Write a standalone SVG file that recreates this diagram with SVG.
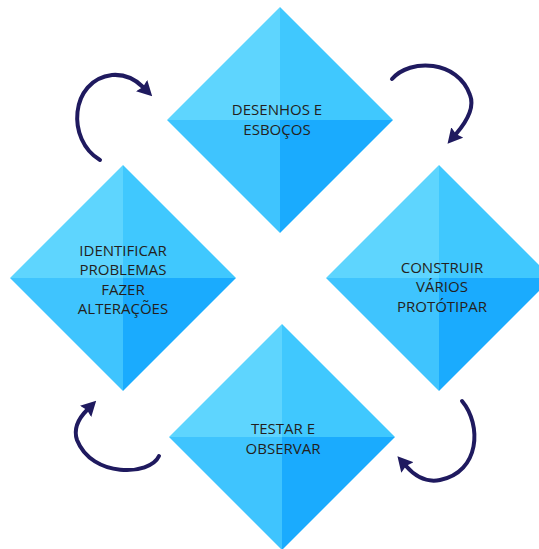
<svg xmlns="http://www.w3.org/2000/svg" xmlns:xlink="http://www.w3.org/1999/xlink" width="539" height="549" viewBox="0 0 539 549">
  <style>
    .tl { fill: #5ed5fe; }
    .tr { fill: #40c8fe; }
    .bl { fill: #3fc4fe; }
    .br { fill: #1aabfe; }
    .label { font-family: "Open Sans", "Noto Sans", "Liberation Sans", sans-serif; font-size: 15px; fill: #231f20; text-anchor: middle; }
    .cycle { fill: none; stroke: #1f1a5f; stroke-width: 4; stroke-linecap: round; marker-end: url(#head); }
  </style>
  <defs>
    <!-- four-faced pyramid tile, centred on the origin -->
    <g id="gem">
      <polygon class="tl" points="0,-113 -113,0 0,0"/>
      <polygon class="tr" points="0,-113 113,0 0,0"/>
      <polygon class="bl" points="-113,0 0,113 0,0"/>
      <polygon class="br" points="113,0 0,113 0,0"/>
    </g>
    <marker id="head" markerUnits="userSpaceOnUse" viewBox="0 -8 15 16" markerWidth="15" markerHeight="16" refX="2" refY="0" orient="auto">
      <path d="M0,-8 L15,0 L0,8 L2,0 Z" fill="#1f1a5f"/>
    </marker>
  </defs>
  <rect width="539" height="549" fill="#ffffff"/>

  <g id="node-desenhos">
    <use xlink:href="#gem" href="#gem" x="280" y="120"/>
    <text class="label" x="277" y="115">DESENHOS E</text>
    <text class="label" x="277" y="135">ESBOÇOS</text>
  </g>

  <g id="node-identificar">
    <use xlink:href="#gem" href="#gem" x="123" y="278"/>
    <text class="label" x="123" y="256">IDENTIFICAR</text>
    <text class="label" x="123" y="275">PROBLEMAS</text>
    <text class="label" x="123" y="295">FAZER</text>
    <text class="label" x="123" y="314">ALTERAÇÕES</text>
  </g>

  <g id="node-construir">
    <use xlink:href="#gem" href="#gem" x="439" y="278"/>
    <text class="label" x="442" y="273">CONSTRUIR</text>
    <text class="label" x="442" y="292">VÁRIOS</text>
    <text class="label" x="442" y="312">PROTÓTIPAR</text>
  </g>

  <g id="node-testar">
    <use xlink:href="#gem" href="#gem" x="282" y="437"/>
    <text class="label" x="283" y="434">TESTAR E</text>
    <text class="label" x="283" y="454">OBSERVAR</text>
  </g>

  <g id="connectors">
    <path class="cycle" d="M100,160 C66,140 70,80 112,75 C125,74 136,80 143,87"/>
    <path class="cycle" d="M392,79 C410,58 458,60 470,95 C476,110 462,127 456,134"/>
    <path class="cycle" d="M462,401 C482,425 480,472 440,480 C425,483 413,474 406,466"/>
    <path class="cycle" d="M159,456 C150,476 92,478 77,440 C73,428 80,417 87,410"/>
  </g>
</svg>
